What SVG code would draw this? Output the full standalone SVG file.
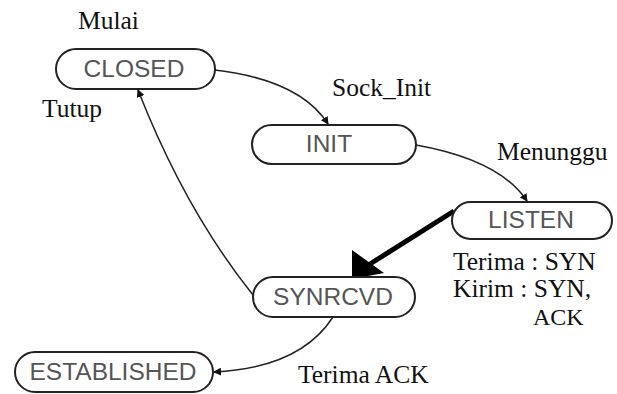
<svg xmlns="http://www.w3.org/2000/svg" width="617" height="394" viewBox="0 0 617 394">
<style>
.node rect{fill:#fff;stroke:#222;stroke-width:2}
.node text{font-family:"Liberation Sans",Arial,sans-serif;font-size:24.5px;fill:#555;text-anchor:middle}
.lbl{font-family:"Liberation Serif","Times New Roman",serif;font-size:25.5px;fill:#111}
.edge{fill:none;stroke:#222;stroke-width:1.5}
.thick{fill:none;stroke:#000;stroke-width:5}
</style>
<defs>
<marker id="ah" markerWidth="8" markerHeight="8" refX="7" refY="4" orient="auto" markerUnits="userSpaceOnUse">
<path d="M0,0 L8,4 L0,8 z" fill="#111"/>
</marker>
</defs>
<rect width="617" height="394" fill="#fff"/>
<g id="connectors">
<path class="edge" d="M215,70 Q300,80 328,124" marker-end="url(#ah)"/>
<path class="edge" d="M416,145 Q500,160 527,201" marker-end="url(#ah)"/>
<path class="thick" d="M454,211 L370,264"/>
<polygon points="352,250 384,273 352,279" fill="#000"/>
<path class="edge" d="M253,295 Q185,210 138,90" marker-end="url(#ah)"/>
<path class="edge" d="M333,317 Q300,368 214,372" marker-end="url(#ah)"/>
</g>
<g id="closed" class="node"><rect x="56" y="49" width="159" height="40" rx="20"/><text x="134" y="77">CLOSED</text></g>
<g id="init" class="node"><rect x="252" y="125" width="164" height="39" rx="19.5"/><text x="329" y="152">INIT</text></g>
<g id="listen" class="node"><rect x="452" y="202" width="160" height="37" rx="18.5"/><text x="531" y="228">LISTEN</text></g>
<g id="synrcvd" class="node"><rect x="253" y="277" width="162" height="40" rx="20"/><text x="333" y="305">SYNRCVD</text></g>
<g id="established" class="node"><rect x="15" y="352" width="198" height="40" rx="20"/><text x="113" y="380">ESTABLISHED</text></g>
<g id="labels">
<text class="lbl" x="78" y="29">Mulai</text>
<text class="lbl" x="42" y="117">Tutup</text>
<text class="lbl" x="332" y="96">Sock_Init</text>
<text class="lbl" x="497" y="160">Menunggu</text>
<text class="lbl" x="453" y="270">Terima : SYN</text>
<text class="lbl" x="453" y="297">Kirim : SYN,</text>
<text class="lbl" x="533" y="325" style="font-size:24px">ACK</text>
<text class="lbl" x="298" y="383">Terima ACK</text>
</g>
</svg>
